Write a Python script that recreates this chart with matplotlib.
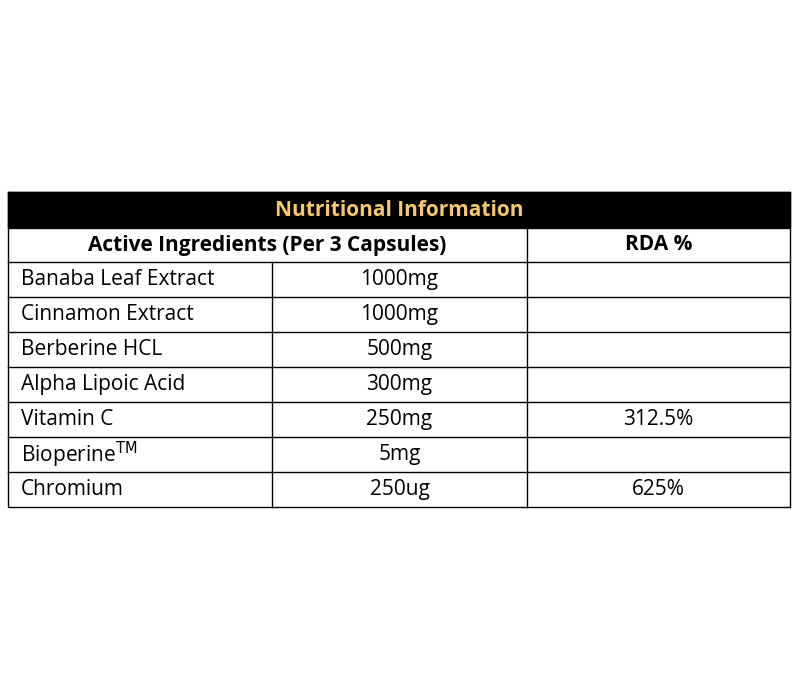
import matplotlib
matplotlib.use("Agg")
import matplotlib.pyplot as plt
from matplotlib.patches import Rectangle

title = "Nutritional Information"
col_headers = ["Active Ingredients (Per 3 Capsules)", "RDA %"]
ingredients = ["Banaba Leaf Extract", "Cinnamon Extract", "Berberine HCL",
               "Alpha Lipoic Acid", "Vitamin C", "Bioperine$^{\\mathrm{TM}}$", "Chromium"]
amounts = ["1000mg", "1000mg", "500mg", "300mg", "250mg", "5mg", "250ug"]
rda = ["", "", "", "", "312.5%", "", "625%"]

fig = plt.figure(figsize=(8, 7), dpi=100)
ax = fig.add_axes([0, 0, 1, 1])
ax.set_xlim(0, 800)
ax.set_ylim(700, 0)
ax.axis("off")

x0, x1, x2, x3 = 8, 272, 527, 790
y_top, y_h1 = 192, 228
y_h2 = 262
rh = 35
font = "Open Sans"
fs = 15
lw = 1.0

ax.add_patch(Rectangle((x0, y_top), x3 - x0, y_h1 - y_top, facecolor="black", edgecolor="black"))
ax.text((x0 + x3) / 2, (y_top + y_h1) / 2 + 1, title, color="#F5C96A", fontsize=fs,
        fontweight="bold", ha="center", va="center", family=font)

ax.text((x0 + x2) / 2, (y_h1 + y_h2) / 2, col_headers[0], fontsize=fs, fontweight="bold",
        ha="center", va="center", family=font)
ax.text((x2 + x3) / 2, (y_h1 + y_h2) / 2, col_headers[1], fontsize=fs, fontweight="bold",
        ha="center", va="center", family=font)

n = len(ingredients)
y_bot = y_h2 + n * rh
# outer and grid lines
ax.plot([x0, x3, x3, x0, x0], [y_top, y_top, y_bot, y_bot, y_top], color="black", lw=lw)
ax.plot([x0, x3], [y_h2, y_h2], color="black", lw=lw)
ax.plot([x2, x2], [y_h1, y_bot], color="black", lw=lw)
ax.plot([x1, x1], [y_h2, y_bot], color="black", lw=lw)
for i in range(1, n):
    y = y_h2 + i * rh
    ax.plot([x0, x3], [y, y], color="black", lw=lw)

for i in range(n):
    yc = y_h2 + i * rh + rh / 2
    ax.text(x0 + 13, yc, ingredients[i], fontsize=fs, ha="left", va="center", family=font)
    ax.text((x1 + x2) / 2, yc, amounts[i], fontsize=fs, ha="center", va="center", family=font)
    if rda[i]:
        ax.text((x2 + x3) / 2, yc, rda[i], fontsize=fs, ha="center", va="center", family=font)

fig.savefig("out.png", dpi=100, facecolor="white")
